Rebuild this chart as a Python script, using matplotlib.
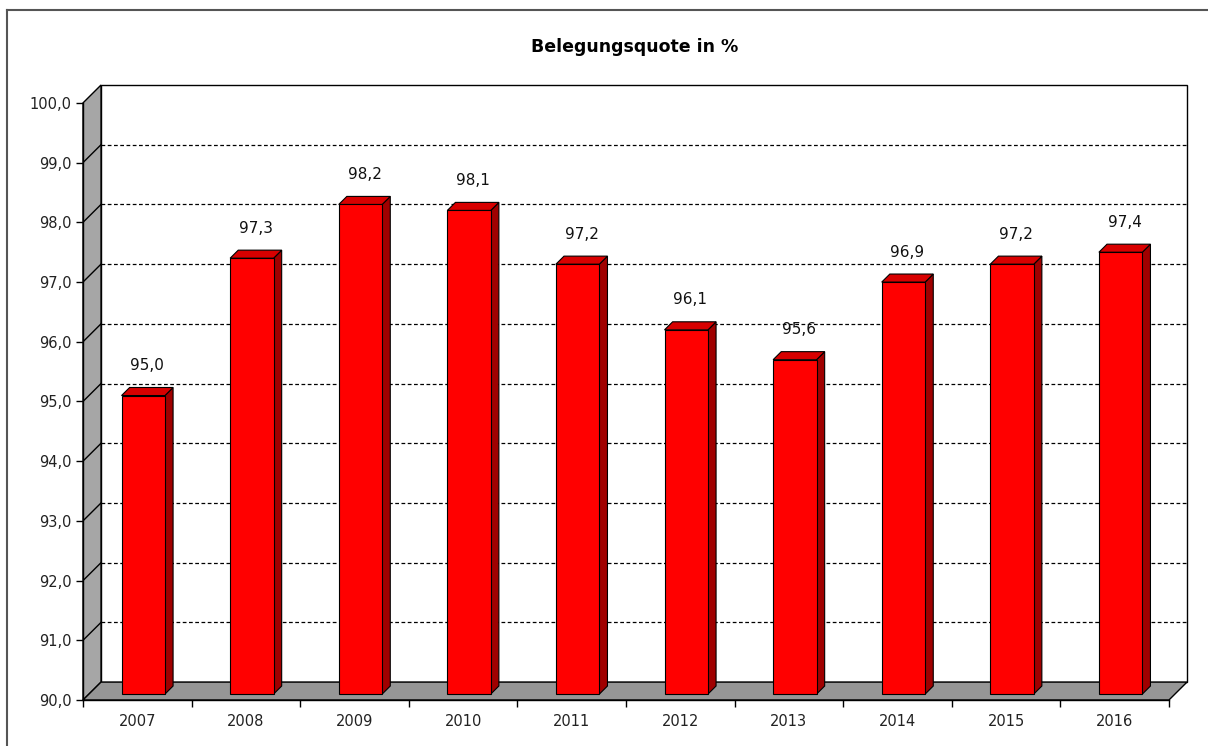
import matplotlib.pyplot as plt
from matplotlib.patches import Polygon
from matplotlib.lines import Line2D
from matplotlib.ticker import FuncFormatter

# Daten
jahre = ['2007', '2008', '2009', '2010', '2011', '2012', '2013', '2014', '2015', '2016']
quote = [95.0, 97.3, 98.2, 98.1, 97.2, 96.1, 95.6, 96.9, 97.2, 97.4]
y_min, y_max = 90, 100

# 3D-Versatz (in Dateneinheiten)
DX = 0.166
DY = 0.30
# Position der Saeulen in der Tiefe (Anteil) und halbe Breite
f0, f1 = 0.33, 0.78
hb = 0.2

def komma(v, pos=None):
    return f'{v:.1f}'.replace('.', ',')

fig = plt.figure(figsize=(12.08, 7.46), dpi=100)
ax = fig.add_axes([83 / 1208, 46 / 746, 1104 / 1208, 615 / 746])
n = len(jahre)
ax.set_xlim(0, n + DX)
ax.set_ylim(y_min, y_max + DY)
for s in ax.spines.values():
    s.set_visible(False)

# Rueckwand
ax.add_patch(Polygon([(DX, y_min + DY), (n + DX, y_min + DY), (n + DX, y_max + DY), (DX, y_max + DY)],
                     closed=True, facecolor='white', edgecolor='black', lw=1.0, zorder=1, clip_on=False))
for k in range(y_min + 1, y_max):
    ax.plot([DX, n + DX], [k + DY, k + DY], color='black', lw=0.9, ls=(0, (3, 2)), zorder=2)

# linke Wand
ax.add_patch(Polygon([(0, y_min), (0, y_max), (DX, y_max + DY), (DX, y_min + DY)],
                     closed=True, facecolor='#a6a6a6', edgecolor='black', lw=1.0, zorder=3, clip_on=False))
for k in range(y_min + 1, y_max):
    ax.plot([0, DX], [k, k + DY], color='black', lw=1.0, zorder=4)

# Boden
ax.add_patch(Polygon([(0, y_min), (n, y_min), (n + DX, y_min + DY), (DX, y_min + DY)],
                     closed=True, facecolor='#969696', edgecolor='black', lw=1.0, zorder=3, clip_on=False))

# Saeulen
for i, v in enumerate(quote):
    c = i + 0.5
    xl, xr = c - hb, c + hb
    seite = [(xr + f0 * DX, y_min + f0 * DY), (xr + f1 * DX, y_min + f1 * DY),
             (xr + f1 * DX, v + f1 * DY), (xr + f0 * DX, v + f0 * DY)]
    oben = [(xl + f0 * DX, v + f0 * DY), (xr + f0 * DX, v + f0 * DY),
            (xr + f1 * DX, v + f1 * DY), (xl + f1 * DX, v + f1 * DY)]
    vorne = [(xl + f0 * DX, y_min + f0 * DY), (xr + f0 * DX, y_min + f0 * DY),
             (xr + f0 * DX, v + f0 * DY), (xl + f0 * DX, v + f0 * DY)]
    ax.add_patch(Polygon(seite, closed=True, facecolor='#a00000', edgecolor='black', lw=0.8, zorder=5))
    ax.add_patch(Polygon(oben, closed=True, facecolor='#d80000', edgecolor='black', lw=0.8, zorder=5))
    ax.add_patch(Polygon(vorne, closed=True, facecolor='#ff0000', edgecolor='black', lw=0.8, zorder=6))
    ax.text(c + 0.5 * (f0 + f1) * DX, v + 0.6, komma(v), ha='center', va='center',
            fontsize=11, color='#111111', zorder=7)

# Achsen
ax.set_yticks(range(y_min, y_max + 1))
ax.yaxis.set_major_formatter(FuncFormatter(komma))
ax.tick_params(axis='y', direction='out', length=5, width=1, labelsize=10.5, pad=3, labelcolor='#222222')
ax.set_xticks([i + 0.5 for i in range(n)])
ax.set_xticklabels(jahre)
ax.set_xticks(range(n + 1), minor=True)
ax.tick_params(axis='x', which='major', length=0, labelsize=10.5, pad=10, labelcolor='#222222')
ax.tick_params(axis='x', which='minor', direction='out', length=5, width=1)
ax.plot([0, 0], [y_min, y_max], color='black', lw=1.0, zorder=8, clip_on=False)
ax.plot([0, n], [y_min, y_min], color='black', lw=1.0, zorder=8, clip_on=False)

# Titel und Rahmen
fig.text(635 / 1208, 1 - 47 / 746, 'Belegungsquote in %', ha='center', va='center',
         fontsize=12.5, fontweight='bold')
fig.add_artist(Line2D([7 / 1208, 1], [1 - 10 / 746, 1 - 10 / 746], color='#555555', lw=1.5))
fig.add_artist(Line2D([7 / 1208, 7 / 1208], [0, 1 - 10 / 746], color='#555555', lw=1.5))

fig.savefig('out.png', dpi=100)
